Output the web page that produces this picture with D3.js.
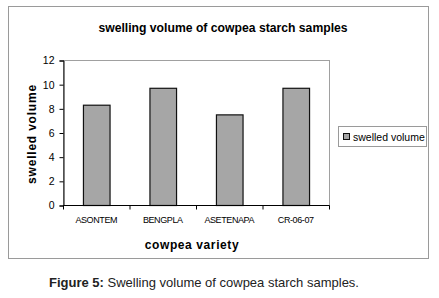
<!DOCTYPE html>
<html>
<head>
<meta charset="utf-8">
<script src="https://cdn.jsdelivr.net/npm/d3@7"></script>
<style>
  body { margin: 0; background: #fff; }
  svg { font-family: "Liberation Sans", Arial, sans-serif; }
</style>
</head>
<body>
<svg id="chart" width="439" height="298"></svg>
<script>
const varieties = ['ASONTEM', 'BENGPLA', 'ASETENAPA', 'CR-06-07'];
const swelledVolume = [8.3, 9.7, 7.5, 9.7];
const yTicks = [0, 2, 4, 6, 8, 10, 12];

const svg = d3.select('svg#chart');
const margin = { top: 60, left: 63 };
const width = 266;
const height = 145;

// outer chart frame
svg.append('rect')
    .attr('x', 8.5).attr('y', 6.5)
    .attr('width', 420).attr('height', 252)
    .attr('fill', '#fff').attr('stroke', '#9a9a9a');

svg.append('text')
    .attr('x', 223).attr('y', 32)
    .attr('text-anchor', 'middle')
    .attr('font-size', 12.2).attr('font-weight', 'bold')
    .text('swelling volume of cowpea starch samples');

const g = svg.append('g').attr('transform', `translate(${margin.left},${margin.top})`);

const x = d3.scaleBand().domain(varieties).range([0, width]).paddingInner(0.6).paddingOuter(0.3);
const xBand = d3.scaleBand().domain(varieties).range([0, width]);
const y = d3.scaleLinear().domain([0, 12]).range([height, 0]);

g.append('rect')
    .attr('x', 0.5).attr('y', 0.5)
    .attr('width', width).attr('height', height)
    .attr('fill', 'none').attr('stroke', '#a0a0a0');

g.selectAll('rect.bar')
  .data(swelledVolume)
  .enter().append('rect')
    .attr('class', 'bar')
    .attr('x', (d, i) => x(varieties[i]) + 0.5)
    .attr('y', d => y(d) + 0.5)
    .attr('width', x.bandwidth())
    .attr('height', d => height - y(d))
    .attr('fill', '#a6a6a6')
    .attr('stroke', '#111').attr('stroke-width', 1.2);

// y axis
const yAxis = g.append('g')
    .attr('transform', 'translate(0.5,0.5)')
    .call(d3.axisLeft(y).tickValues(yTicks).tickSize(4).tickPadding(5));
yAxis.select('.domain').attr('stroke', '#000');
yAxis.selectAll('text').attr('font-size', 10.5).attr('font-family', '"Liberation Sans", Arial, sans-serif').attr('fill', '#000');

// x axis: ticks at category boundaries
const xAxis = g.append('g').attr('transform', `translate(0,${height + 0.5})`);
xAxis.append('line').attr('x1', 0).attr('x2', width + 0.5).attr('stroke', '#000');
xAxis.selectAll('line.tick')
  .data(varieties.concat(['end']))
  .enter().append('line')
    .attr('class', 'tick')
    .attr('x1', (d, i) => i < varieties.length ? xBand(d) + 0.5 : width + 0.5)
    .attr('x2', (d, i) => i < varieties.length ? xBand(d) + 0.5 : width + 0.5)
    .attr('y1', 0).attr('y2', 4)
    .attr('stroke', '#000');
xAxis.selectAll('text')
  .data(varieties)
  .enter().append('text')
    .attr('x', d => xBand(d) + xBand.bandwidth() / 2)
    .attr('y', 17)
    .attr('text-anchor', 'middle')
    .attr('font-size', 9)
    .attr('letter-spacing', -0.4)
    .text(d => d);

svg.append('text')
    .attr('transform', 'translate(36,134) rotate(-90)')
    .attr('text-anchor', 'middle')
    .attr('font-size', 12).attr('font-weight', 'bold')
    .attr('letter-spacing', 0.8)
    .text('swelled volume');

svg.append('text')
    .attr('x', 192).attr('y', 249)
    .attr('text-anchor', 'middle')
    .attr('font-size', 12).attr('font-weight', 'bold')
    .attr('letter-spacing', 0.6)
    .text('cowpea variety');

// legend
const legend = svg.append('g').attr('transform', 'translate(338,126)');
legend.append('rect')
    .attr('x', 0.5).attr('y', 0.5).attr('width', 88).attr('height', 20)
    .attr('fill', '#fff').attr('stroke', '#9a9a9a');
legend.append('rect')
    .attr('x', 5.5).attr('y', 7.5).attr('width', 6).attr('height', 6)
    .attr('fill', '#a6a6a6').attr('stroke', '#111');
legend.append('text')
    .attr('x', 15).attr('y', 14.5)
    .attr('font-size', 10.5)
    .text('swelled volume');

// caption
const caption = svg.append('text')
    .attr('x', 49).attr('y', 287)
    .attr('font-size', 13).attr('fill', '#222');
caption.append('tspan').attr('font-weight', 'bold').text('Figure 5:');
caption.append('tspan').text(' Swelling volume of cowpea starch samples.');
</script>
</body>
</html>
